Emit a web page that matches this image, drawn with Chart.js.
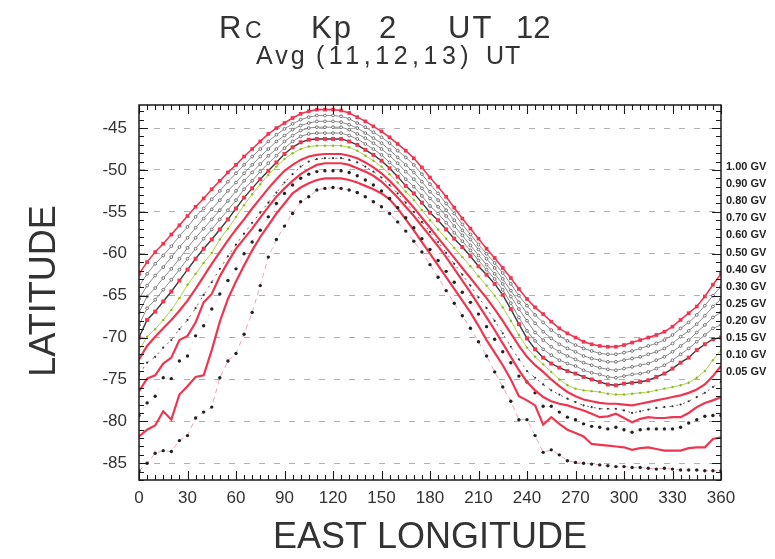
<!DOCTYPE html>
<html><head><meta charset="utf-8">
<script src="https://cdn.jsdelivr.net/npm/chart.js@4/dist/chart.umd.min.js"></script>
<style>html,body{margin:0;padding:0;background:#fff}canvas{display:block}</style>
</head><body>
<canvas id="c" width="775" height="559"></canvas>
<script>
// ---------- data ----------
const LON = [0,5,10,15,20,25,30,35,40,45,50,55,60,65,70,75,80,85,90,95,100,105,110,115,120,125,130,135,140,145,150,155,160,165,170,175,180,185,190,195,200,205,210,215,220,225,230,235,240,245,250,255,260,265,270,275,280,285,290,295,300,305,310,315,320,325,330,335,340,345,350,355,360];
const X_TICKS = [0,30,60,90,120,150,180,210,240,270,300,330,360];
const Y_TICKS = [-45,-50,-55,-60,-65,-70,-75,-80,-85];
const GV_LABELS = ['1.00 GV','0.90 GV','0.80 GV','0.70 GV','0.60 GV','0.50 GV','0.40 GV','0.30 GV','0.25 GV','0.20 GV','0.15 GV','0.10 GV','0.05 GV'];

const GV100 = [-62.4,-61.0,-59.8,-58.8,-57.7,-56.6,-55.5,-54.4,-53.4,-52.3,
 -51.3,-50.3,-49.4,-48.4,-47.5,-46.6,-45.7,-45.0,-44.4,-43.8,
 -43.3,-43.0,-42.8,-42.8,-42.8,-42.9,-43.2,-43.7,-44.2,-44.8,
 -45.4,-46.1,-46.9,-47.7,-48.6,-49.7,-50.9,-52.0,-53.2,-54.5,
 -55.8,-57.0,-58.2,-59.4,-60.5,-61.7,-62.9,-64.2,-65.4,-66.4,
 -67.2,-68.1,-68.9,-69.5,-70.0,-70.5,-70.8,-71.0,-71.1,-71.1,
 -70.9,-70.6,-70.3,-70.0,-69.7,-69.3,-68.7,-67.9,-67.1,-66.3,
 -65.1,-63.7,-62.4];
const GV090 = [-63.9,-62.4,-61.2,-60.2,-59.1,-57.9,-56.8,-55.6,-54.6,-53.5,
 -52.5,-51.4,-50.4,-49.4,-48.4,-47.5,-46.6,-45.8,-45.1,-44.5,
 -44.0,-43.7,-43.5,-43.5,-43.5,-43.6,-43.9,-44.4,-44.9,-45.5,
 -46.1,-46.8,-47.7,-48.5,-49.4,-50.5,-51.7,-52.8,-54.0,-55.2,
 -56.5,-57.7,-58.9,-60.0,-61.1,-62.3,-63.6,-65.0,-66.2,-67.3,
 -68.2,-69.1,-69.8,-70.4,-70.9,-71.3,-71.6,-71.9,-72.0,-72.0,
 -71.8,-71.6,-71.3,-71.0,-70.7,-70.3,-69.7,-68.9,-68.2,-67.3,
 -66.2,-65.0,-63.9];
const GV080 = [-65.4,-63.8,-62.6,-61.6,-60.4,-59.2,-58.1,-56.9,-55.8,-54.7,
 -53.6,-52.5,-51.5,-50.4,-49.4,-48.4,-47.5,-46.6,-45.9,-45.2,
 -44.7,-44.4,-44.2,-44.2,-44.2,-44.3,-44.6,-45.0,-45.6,-46.2,
 -46.8,-47.6,-48.5,-49.4,-50.3,-51.4,-52.6,-53.6,-54.8,-56.0,
 -57.2,-58.3,-59.5,-60.6,-61.7,-63.0,-64.4,-65.8,-67.1,-68.3,
 -69.3,-70.1,-70.8,-71.3,-71.7,-72.2,-72.5,-72.7,-72.9,-72.9,
 -72.7,-72.5,-72.3,-72.0,-71.7,-71.3,-70.7,-69.9,-69.2,-68.4,
 -67.4,-66.3,-65.4];
const GV070 = [-67.0,-65.1,-64.1,-62.9,-61.8,-60.6,-59.3,-58.1,-57.0,-55.9,
 -54.8,-53.7,-52.5,-51.3,-50.3,-49.3,-48.3,-47.5,-46.6,-45.9,
 -45.3,-45.0,-44.9,-44.9,-44.9,-44.9,-45.2,-45.7,-46.2,-46.8,
 -47.5,-48.3,-49.2,-50.2,-51.1,-52.2,-53.4,-54.4,-55.5,-56.7,
 -57.8,-59.0,-60.2,-61.3,-62.4,-63.6,-65.1,-66.6,-68.0,-69.4,
 -70.3,-71.1,-71.7,-72.2,-72.6,-73.0,-73.3,-73.6,-73.8,-73.9,
 -73.7,-73.5,-73.3,-73.1,-72.7,-72.3,-71.7,-71.0,-70.3,-69.4,
 -68.5,-67.6,-67.0];
const GV060 = [-68.5,-66.5,-65.5,-64.3,-63.1,-61.9,-60.6,-59.4,-58.2,-57.1,
 -55.9,-54.8,-53.6,-52.3,-51.3,-50.2,-49.2,-48.3,-47.4,-46.6,
 -46.0,-45.7,-45.6,-45.6,-45.6,-45.6,-45.9,-46.3,-46.9,-47.5,
 -48.2,-49.1,-50.0,-51.1,-52.0,-53.1,-54.3,-55.2,-56.3,-57.5,
 -58.5,-59.6,-60.8,-61.9,-63.0,-64.3,-65.9,-67.6,-69.2,-70.4,
 -71.4,-72.1,-72.7,-73.1,-73.4,-73.9,-74.2,-74.4,-74.7,-74.8,
 -74.6,-74.4,-74.3,-74.1,-73.7,-73.3,-72.7,-72.0,-71.3,-70.5,
 -69.7,-68.9,-68.5];
const GV050 = [-70.0,-67.9,-66.9,-65.7,-64.5,-63.2,-61.9,-60.6,-59.4,-58.3,
 -57.1,-55.9,-54.6,-53.3,-52.2,-51.1,-50.1,-49.1,-48.1,-47.3,
 -46.7,-46.4,-46.3,-46.3,-46.3,-46.3,-46.6,-47.0,-47.6,-48.2,
 -48.9,-49.8,-50.8,-51.9,-52.8,-53.9,-55.1,-56.0,-57.1,-58.2,
 -59.2,-60.3,-61.5,-62.5,-63.6,-64.9,-66.6,-68.4,-70.1,-71.4,
 -72.4,-73.1,-73.6,-74.0,-74.3,-74.7,-75.0,-75.3,-75.6,-75.7,
 -75.5,-75.4,-75.3,-75.1,-74.7,-74.3,-73.7,-73.0,-72.4,-71.5,
 -70.8,-70.2,-70.0];
const GV040 = [-71.5,-69.9,-69.0,-67.9,-66.7,-65.3,-63.7,-62.4,-61.1,-59.9,
 -58.3,-57.0,-55.6,-54.2,-52.9,-51.7,-50.6,-49.6,-48.7,-48.0,
 -47.5,-47.2,-47.1,-47.1,-47.1,-47.1,-47.3,-47.7,-48.3,-48.9,
 -49.6,-50.5,-51.5,-52.6,-53.6,-54.8,-56.0,-57.1,-58.2,-59.3,
 -60.4,-61.5,-62.7,-63.8,-65.0,-66.4,-68.0,-69.7,-71.2,-72.3,
 -73.2,-74.1,-75.0,-75.7,-76.1,-76.3,-76.4,-76.5,-76.7,-76.8,
 -76.8,-76.7,-76.6,-76.5,-76.3,-76.1,-75.9,-75.7,-75.4,-74.8,
 -74.0,-72.7,-71.5];
const GV030 = [-72.6,-71.0,-69.9,-68.9,-67.9,-66.8,-65.6,-64.2,-62.7,-61.2,
 -59.8,-58.4,-57.1,-55.9,-54.6,-53.4,-52.2,-51.1,-50.1,-49.4,
 -48.8,-48.4,-48.2,-48.1,-48.1,-48.1,-48.3,-48.6,-49.1,-49.7,
 -50.4,-51.3,-52.3,-53.4,-54.5,-55.7,-56.9,-58.1,-59.3,-60.5,
 -61.7,-62.9,-64.1,-65.3,-66.6,-68.0,-69.5,-71.0,-72.3,-73.3,
 -74.1,-75.0,-75.8,-76.5,-77.0,-77.4,-77.6,-77.8,-77.9,-77.9,
 -78.0,-78.1,-77.9,-77.7,-77.5,-77.3,-77.1,-76.9,-76.6,-76.2,
 -75.6,-74.6,-73.4];
const GV025 = [-74.4,-73.0,-72.3,-71.2,-70.3,-69.0,-67.9,-66.5,-64.9,-63.4,
 -61.8,-60.3,-58.9,-57.6,-56.3,-55.1,-53.9,-52.7,-51.5,-50.5,
 -49.6,-49.0,-48.7,-48.6,-48.6,-48.6,-48.8,-49.1,-49.6,-50.2,
 -50.9,-51.8,-52.8,-53.9,-55.0,-56.2,-57.4,-58.6,-59.9,-61.2,
 -62.5,-63.8,-65.2,-66.5,-68.0,-69.5,-71.1,-72.6,-74.0,-74.8,
 -75.6,-76.3,-76.8,-77.3,-77.7,-78.1,-78.3,-78.5,-78.5,-78.5,
 -78.7,-79.0,-78.8,-78.6,-78.4,-78.3,-78.2,-78.0,-77.6,-77.1,
 -76.6,-75.9,-75.3];
const GV020 = [-76.4,-74.9,-74.5,-73.1,-72.4,-70.3,-69.8,-68.2,-65.8,-64.8,
 -62.7,-61.0,-59.4,-58.2,-57.0,-55.7,-54.4,-53.2,-52.2,-51.3,
 -50.5,-49.9,-49.4,-49.2,-49.2,-49.2,-49.4,-49.8,-50.2,-50.7,
 -51.4,-52.3,-53.3,-54.4,-55.5,-56.7,-57.9,-59.1,-60.4,-61.8,
 -63.2,-64.6,-66.1,-67.6,-69.1,-70.7,-72.3,-73.9,-75.3,-76.3,
 -77.1,-77.6,-77.9,-78.1,-78.4,-78.7,-79.1,-79.5,-79.4,-79.1,
 -79.6,-80.1,-79.7,-79.5,-79.6,-79.6,-79.5,-79.5,-79.0,-78.3,
 -77.8,-77.5,-77.1];
const GV015 = [-79.3,-77.8,-77.0,-74.8,-74.9,-72.8,-72.2,-69.8,-68.6,-66.6,
 -64.8,-63.2,-61.8,-60.0,-58.6,-57.2,-55.6,-54.0,-52.8,-51.8,
 -51.0,-50.5,-50.2,-50.1,-50.1,-50.1,-50.3,-50.7,-51.2,-51.8,
 -52.5,-53.4,-54.5,-55.7,-56.9,-58.2,-59.5,-60.8,-62.1,-63.4,
 -64.6,-65.8,-67.2,-68.7,-70.2,-71.7,-73.0,-74.6,-75.3,-76.6,
 -78.2,-78.2,-78.9,-79.5,-79.8,-80.3,-80.6,-80.7,-80.9,-80.7,
 -81.0,-81.3,-81.0,-80.9,-80.9,-80.9,-80.9,-80.7,-80.2,-79.8,
 -79.4,-79.3,-79.3];
const GV010 = [-81.8,-81.0,-80.5,-78.8,-79.8,-76.8,-75.8,-74.7,-74.5,-71.5,
 -68.1,-65.4,-63.3,-61.4,-59.6,-58.0,-56.6,-55.2,-54.0,-52.8,
 -52.1,-51.6,-51.2,-51.0,-51.0,-51.0,-51.2,-51.5,-51.9,-52.3,
 -52.8,-53.5,-54.6,-55.9,-57.2,-58.6,-60.0,-61.4,-62.8,-64.2,
 -65.6,-67.0,-68.6,-70.3,-71.8,-73.3,-75.0,-77.0,-77.5,-78.1,
 -80.4,-79.5,-80.3,-81.0,-81.4,-81.8,-82.7,-82.8,-82.9,-83.0,
 -83.1,-83.4,-83.2,-83.1,-83.3,-83.5,-83.5,-83.5,-83.2,-83.1,
 -83.1,-82.1,-81.9];
const GV005 = [-85.9,-85.0,-83.8,-83.5,-83.6,-82.3,-81.7,-79.6,-78.9,-78.3,
 -74.8,-72.8,-71.9,-69.6,-67.0,-63.8,-60.4,-58.3,-56.7,-55.2,
 -53.8,-53.2,-52.4,-52.2,-52.1,-52.2,-52.4,-52.7,-53.2,-53.8,
 -54.4,-55.2,-56.2,-57.3,-58.5,-59.8,-61.3,-62.8,-64.4,-65.9,
 -67.4,-68.9,-70.5,-72.2,-74.1,-75.9,-77.6,-79.8,-79.8,-81.7,
 -83.7,-83.4,-84.0,-84.7,-84.9,-85.0,-85.1,-85.2,-85.3,-85.4,
 -85.4,-85.5,-85.5,-85.6,-85.7,-85.6,-85.7,-85.8,-85.8,-85.8,
 -85.9,-85.9,-85.9];

// ---------- styles ----------
const RED = '#ef3650';
const pts = arr => arr.map((v, i) => ({x: LON[i], y: v}));
const redMark = {borderColor: RED, borderWidth: 1.6, pointStyle: 'rect', pointRadius: 2.6, pointBackgroundColor: RED, pointBorderWidth: 0};
const grayLine = {borderColor: '#6e6e6e', borderWidth: 0.8, pointStyle: 'circle', pointRadius: 1.4, pointBackgroundColor: '#ffffff', pointBorderColor: '#555', pointBorderWidth: 0.8};
const darkRedMark = {borderColor: '#3a3a3a', borderWidth: 1.4, pointStyle: 'rect', pointRadius: 2.8, pointBackgroundColor: RED, pointBorderWidth: 0};
const greenDot = {borderColor: '#a9d248', borderWidth: 1, pointRadius: 1.2, pointBackgroundColor: '#86bd22', pointBorderWidth: 0};
const redSolid = {borderColor: RED, borderWidth: 2.2, pointRadius: 0};
const dashDot = {borderColor: '#666', borderWidth: 1, borderDash: [2, 5], pointRadius: 1.1, pointBackgroundColor: '#333', pointBorderWidth: 0};
const blackDots = {borderColor: 'rgba(120,120,120,0.35)', borderWidth: 0.8, borderDash: [2, 6], pointRadius: 1.7, pointBackgroundColor: '#222', pointBorderWidth: 0};
const pinkDots = {borderColor: '#f5a3ad', borderWidth: 1, borderDash: [5, 4], pointRadius: 1.7, pointBackgroundColor: '#222', pointBorderWidth: 0};

const series = [
  [GV_LABELS[0], GV100, redMark],
  [GV_LABELS[1], GV090, grayLine],
  [GV_LABELS[2], GV080, grayLine],
  [GV_LABELS[3], GV070, grayLine],
  [GV_LABELS[4], GV060, grayLine],
  [GV_LABELS[5], GV050, darkRedMark],
  [GV_LABELS[6], GV040, greenDot],
  [GV_LABELS[7], GV030, redSolid],
  [GV_LABELS[8], GV025, dashDot],
  [GV_LABELS[9], GV020, redSolid],
  [GV_LABELS[10], GV015, blackDots],
  [GV_LABELS[11], GV010, redSolid],
  [GV_LABELS[12], GV005, pinkDots]
];
const datasets = series.map(([label, arr, st]) => Object.assign({label, data: pts(arr), tension: 0, fill: false}, st));

const FONT = '"Liberation Sans", Arial, sans-serif';

const decor = {
  id: 'decor',
  afterDraw(chart) {
    const ctx = chart.ctx, a = chart.chartArea, xs = chart.scales.x, ys = chart.scales.y;
    ctx.save();
    // frame
    ctx.strokeStyle = '#1a1a1a';
    ctx.lineWidth = 1.5;
    ctx.strokeRect(a.left, a.top, a.right - a.left, a.bottom - a.top);
    // tick marks (inside)
    ctx.lineWidth = 1.1;
    ctx.beginPath();
    for (let v = -87; v <= -43; v++) {
      const y = Math.round(ys.getPixelForValue(v)) + 0.5;
      const L = (v % 5 === 0) ? 9 : 5;
      ctx.moveTo(a.left, y); ctx.lineTo(a.left + L, y);
      ctx.moveTo(a.right, y); ctx.lineTo(a.right - L, y);
    }
    for (let v = 0; v <= 360; v += 5) {
      const x = Math.round(xs.getPixelForValue(v)) + 0.5;
      const L = (v % 30 === 0) ? 9 : 5;
      ctx.moveTo(x, a.bottom); ctx.lineTo(x, a.bottom - L);
      ctx.moveTo(x, a.top); ctx.lineTo(x, a.top + L);
    }
    ctx.stroke();

    // titles
    ctx.fillStyle = '#333';
    ctx.textBaseline = 'alphabetic';
    ctx.textAlign = 'left';
    ctx.font = '31px ' + FONT;
    ctx.fillText('R', 219, 38);
    ctx.font = '23px ' + FONT;
    ctx.fillText('C', 245, 38);
    ctx.font = '31px ' + FONT;
    ctx.letterSpacing = '2px';
    ctx.fillText('Kp', 311, 38);
    ctx.letterSpacing = '0px';
    ctx.fillText('2', 379, 38);
    ctx.letterSpacing = '2px';
    ctx.fillText('UT', 448, 38);
    ctx.letterSpacing = '0px';
    ctx.fillText('12', 516, 38);

    ctx.font = '25px ' + FONT;
    ctx.letterSpacing = '3px';
    ctx.fillText('Avg', 256, 64);
    ctx.letterSpacing = '4.5px';
    ctx.fillText('(11,12,13)', 316, 64);
    ctx.letterSpacing = '1px';
    ctx.fillText('UT', 486, 64);
    ctx.letterSpacing = '0px';

    // axis titles
    ctx.font = '36px ' + FONT;
    ctx.textAlign = 'center';
    ctx.textBaseline = 'middle';
    ctx.fillText('EAST LONGITUDE', 430, 538);
    ctx.save();
    ctx.translate(45, 291);
    ctx.rotate(-Math.PI / 2);
    ctx.fillText('LATITUDE', 0, 0);
    ctx.restore();

    // GV labels
    ctx.font = 'bold 11px ' + FONT;
    ctx.textAlign = 'left';
    ctx.fillStyle = '#222';
    GV_LABELS.forEach((t, i) => ctx.fillText(t, 726, 167 + i * 17.1));
    ctx.restore();
  }
};

new Chart(document.getElementById('c'), {
  type: 'line',
  data: {datasets},
  options: {
    responsive: false,
    animation: false,
    devicePixelRatio: 1,
    events: [],
    layout: {padding: {top: 105, right: 54, left: 0, bottom: 0}},
    plugins: {legend: {display: false}, tooltip: {enabled: false}, title: {display: false}},
    scales: {
      x: {
        type: 'linear', min: 0, max: 360,
        afterBuildTicks: s => { s.ticks = X_TICKS.map(v => ({value: v})); },
        afterFit: s => { s.height = 79; },
        ticks: {font: {family: FONT, size: 17}, color: '#333', padding: 8, maxRotation: 0, autoSkip: false},
        grid: {display: false, drawTicks: false},
        border: {display: false}
      },
      y: {
        type: 'linear', min: -87, max: -42.25,
        afterBuildTicks: s => { s.ticks = Y_TICKS.map(v => ({value: v})); },
        afterFit: s => { s.width = 139; },
        ticks: {font: {family: FONT, size: 17}, color: '#333', padding: 12, autoSkip: false},
        grid: {color: '#b0b0b0', lineWidth: 1, drawTicks: false},
        border: {display: false, dash: [6, 9]}
      }
    }
  },
  plugins: [decor]
});
</script>
</body></html>
